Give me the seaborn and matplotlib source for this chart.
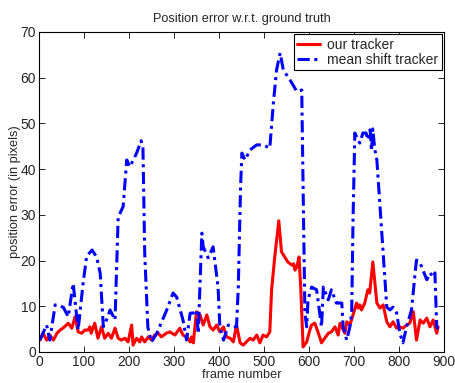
import numpy as np
import pandas as pd
import matplotlib
matplotlib.use("Agg")
import matplotlib.pyplot as plt
import seaborn as sns

red_frames = [2, 9, 17, 24, 32, 40, 47, 53, 61, 65, 73, 80, 84, 87, 95, 102, 109, 113, 116, 124,
              131, 139, 146, 154, 161, 169, 176, 183, 191, 198, 206, 209, 217, 224, 228, 235, 243,
              250, 257, 265, 272, 283, 291, 302, 313, 320, 328, 336, 339, 343, 350, 358, 365, 373,
              380, 387, 395, 402, 410, 417, 425, 432, 439, 447, 454, 461, 469, 476, 484, 491, 498,
              506, 513, 517, 524, 533, 539, 546, 553, 562, 566, 569, 573, 578, 582, 587, 595, 602,
              606, 613, 620, 628, 635, 643, 650, 658, 665, 669, 680, 684, 691, 698, 706, 710, 713,
              717, 724, 731, 735, 742, 751, 758, 765, 773, 780, 787, 795, 802, 809, 817, 824, 832,
              839, 847, 854, 862, 869, 876, 884, 887]
red_values = [2.6, 4.1, 2.6, 3.7, 2.6, 4.1, 4.8, 5.2, 5.9, 6.3, 5.2, 7.7, 5.9, 4.4, 4.1, 4.8, 4.8, 5.5, 4.1, 6.3,
              3.0, 5.5, 3.0, 4.1, 3.0, 5.2, 3.0, 2.6, 3.0, 2.2, 5.9, 1.5, 3.0, 2.2, 3.3, 2.2, 3.3,
              2.6, 3.7, 4.1, 3.3, 4.1, 4.4, 3.7, 5.2, 3.7, 3.3, 2.2, 3.3, 2.0, 8.8, 8.1, 5.9, 8.1,
              5.5, 4.8, 5.9, 4.4, 5.5, 3.3, 3.0, 2.2, 5.9, 2.0, 1.5, 2.2, 3.0, 2.6, 3.7, 2.0, 3.7,
              3.3, 4.4, 13.6, 20.8, 28.7, 21.9, 20.8, 19.7, 19.0, 19.3, 17.9, 18.6, 20.8, 13.6, 1.1, 2.2, 4.8,
              5.9, 6.3, 4.4, 2.0, 3.0, 4.1, 4.4, 5.5, 3.7, 6.3, 4.1, 6.6, 5.9, 8.1, 10.7, 9.6, 10.3,
              9.2, 10.7, 13.6, 12.9, 19.7, 10.7, 9.6, 10.3, 6.6, 5.5, 6.6, 5.2, 5.5, 5.2, 5.9, 6.3, 8.8,
              2.6, 7.0, 6.3, 7.4, 5.5, 7.0, 4.1, 5.5]

blue_frames = [2, 17, 24, 36, 54, 65, 76, 87, 98, 106, 118, 128, 136, 143, 150, 158, 169, 176, 187, 195,
               202, 217, 227, 231, 235, 242, 250, 262, 284, 298, 306, 320, 328, 336, 343, 350, 354, 362,
               365, 376, 387, 398, 402, 410, 421, 431, 439, 443, 448, 451, 458, 469, 484, 498, 513, 521,
               528, 536, 543, 558, 573, 584, 587, 591, 595, 598, 606, 617, 628, 632, 643, 650, 661, 673,
               676, 684, 691, 695, 698, 702, 709, 713, 720, 727, 731, 736, 739, 742, 746, 751, 754, 758,
               765, 773, 780, 787, 795, 802, 809, 817, 828, 836, 839, 847, 853, 862, 869, 876, 880, 884, 887]
blue_values = [2.6, 5.9, 2.6, 10.3, 9.8, 7.7, 15.0, 4.8, 15.0, 21.0, 22.3, 20.8, 17.3, 5.5, 7.0, 9.2, 7.0, 29.5, 31.8, 42.0,
               40.5, 43.5, 46.2, 45.0, 21.6, 5.4, 2.2, 4.1, 9.2, 12.9, 12.0, 7.0, 2.6, 8.5, 8.5, 9.2, 4.0, 26.0,
               23.0, 20.6, 23.0, 14.2, 5.5, 2.6, 5.9, 5.5, 5.5, 14.2, 36.0, 43.5, 42.0, 44.2, 45.3, 45.3, 44.6, 54.5,
               61.7, 65.4, 61.7, 59.5, 57.0, 57.3, 36.0, 8.5, 5.5, 11.4, 14.2, 13.6, 5.5, 14.2, 11.4, 13.6, 10.7, 10.7,
               5.5, 2.6, 5.5, 8.5, 28.9, 47.9, 46.4, 45.7, 47.9, 47.9, 46.4, 48.6, 44.0, 48.8, 44.5, 42.0, 37.6, 31.8,
               21.6, 9.8, 9.2, 9.8, 8.5, 4.1, 2.0, 5.5, 9.2, 17.3, 20.1, 19.5, 18.0, 15.8, 17.3, 16.4, 17.3, 5.5, 5.0]

series_names = ["our tracker", "mean shift tracker"]
x_ticks = [0, 100, 200, 300, 400, 500, 600, 700, 800, 900]
y_ticks = [0, 10, 20, 30, 40, 50, 60, 70]

sns.set_style("ticks")
plt.rcParams["font.family"] = ["Liberation Sans", "DejaVu Sans"]

fig = plt.figure(figsize=(4.56, 3.83), dpi=100)
ax = fig.add_axes([0.0855, 0.081, 0.888, 0.8355])

red_df = pd.DataFrame({"frame": red_frames, "err": red_values})
blue_df = pd.DataFrame({"frame": blue_frames, "err": blue_values})

sns.lineplot(data=red_df, x="frame", y="err", ax=ax, color="#ff0000", linewidth=2.2,
             label=series_names[0])
sns.lineplot(data=blue_df, x="frame", y="err", ax=ax, color="#0000ff", linewidth=2.2,
             linestyle=(0, (4, 1.5, 1, 1.5)), label=series_names[1])

ax.set_xlim(0, 900)
ax.set_ylim(0, 70)
ax.set_xticks(x_ticks)
ax.set_yticks(y_ticks)
ax.tick_params(direction="in", top=True, right=True, labelsize=10, length=4, width=0.7, pad=2)
for s in ax.spines.values():
    s.set_visible(True)
    s.set_color("black")
    s.set_linewidth(0.8)

ax.set_xlabel("frame number", fontsize=9.2, labelpad=0)
ax.set_ylabel("position error (in pixels)", fontsize=9.2, labelpad=0)
ax.set_title("Position error w.r.t. ground truth", fontsize=9.2, pad=7)

leg = ax.legend(loc="upper right", fontsize=10, frameon=True, fancybox=False,
                edgecolor="black", framealpha=1, borderaxespad=0.15, handlelength=1.6,
                labelspacing=0.1, borderpad=0.25, handletextpad=0.55)
leg.get_frame().set_linewidth(0.8)

fig.savefig("out.png", dpi=100)
